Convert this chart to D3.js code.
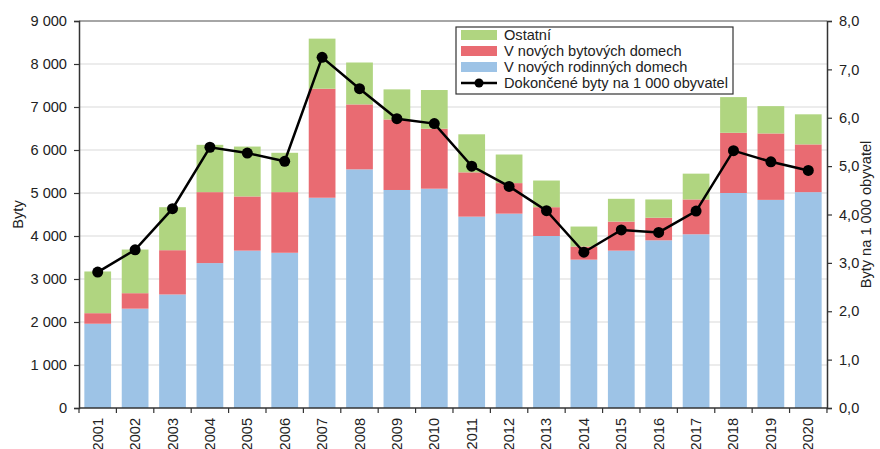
<!DOCTYPE html>
<html>
<head>
<meta charset="utf-8">
<script src="https://cdn.jsdelivr.net/npm/d3@7"></script>
<style>
  body { margin: 0; background: #fff; }
  text { font-family: "Liberation Sans", Arial, sans-serif; fill: #222; }
</style>
</head>
<body>
<div id="chart"></div>
<script>
// Data
const years = ["2001","2002","2003","2004","2005","2006","2007","2008","2009","2010",
  "2011","2012","2013","2014","2015","2016","2017","2018","2019","2020"];
const rodinne = [1960, 2310, 2640, 3370, 3660, 3610, 4890, 5550, 5070, 5100,
  4450, 4520, 4000, 3450, 3660, 3900, 4040, 5000, 4840, 5020];
const bytove = [245, 360, 1030, 1650, 1260, 1410, 2535, 1510, 1640, 1395,
  1030, 710, 670, 305, 675, 525, 810, 1400, 1545, 1110];
const ostatni = [970, 1015, 1000, 1100, 1160, 915, 1165, 975, 700, 900,
  885, 665, 620, 465, 530, 425, 600, 830, 635, 700];
const naObyvatel = [2.81, 3.27, 4.12, 5.39, 5.27, 5.10, 7.25, 6.60, 5.98, 5.88,
  5.00, 4.58, 4.08, 3.22, 3.68, 3.63, 4.07, 5.32, 5.09, 4.91];
const leftTicks = [0, 1000, 2000, 3000, 4000, 5000, 6000, 7000, 8000, 9000];
const rightTicks = [0, 1, 2, 3, 4, 5, 6, 7, 8];

const colors = ["#9dc3e6", "#e96b72", "#b0d580"];
const fontSize = 14.6;

const W = 880, H = 449;
const margin = { top: 21, right: 53, bottom: 41, left: 79 };
const width = W - margin.left - margin.right;
const height = H - margin.top - margin.bottom;

const svg = d3.select("#chart").append("svg")
  .attr("width", W).attr("height", H);
const g = svg.append("g").attr("transform", `translate(${margin.left},${margin.top})`);

const x = d3.scaleBand().domain(years).range([0, width]).paddingInner(0.285).paddingOuter(0.143);
const y = d3.scaleLinear().domain([0, 9000]).range([height, 0]);
const y2 = d3.scaleLinear().domain([0, 8]).range([height, 0]);

// gridlines
g.append("g").selectAll("line").data(leftTicks.slice(1))
  .join("line")
  .attr("x1", 0).attr("x2", width)
  .attr("y1", d => y(d)).attr("y2", d => y(d))
  .attr("stroke", d => d === 9000 ? "#888" : "#d9d9d9")
  .attr("stroke-width", d => d === 9000 ? 1.5 : 1);

// stacked bars
const table = years.map((yr, i) => ({ year: yr, s0: rodinne[i], s1: bytove[i], s2: ostatni[i] }));
const stack = d3.stack().keys(["s0", "s1", "s2"])(table);

g.append("g").selectAll("g").data(stack).join("g")
  .attr("fill", (d, i) => colors[i])
  .selectAll("rect").data(d => d).join("rect")
  .attr("x", d => x(d.data.year))
  .attr("width", x.bandwidth())
  .attr("y", d => y(d[1]))
  .attr("height", d => y(d[0]) - y(d[1]));

// line series on right axis
const line = d3.line()
  .x((d, i) => x(years[i]) + x.bandwidth() / 2)
  .y(d => y2(d));
g.append("path").datum(naObyvatel)
  .attr("d", line).attr("fill", "none")
  .attr("stroke", "#000").attr("stroke-width", 2.5);
g.append("g").selectAll("circle").data(naObyvatel).join("circle")
  .attr("cx", (d, i) => x(years[i]) + x.bandwidth() / 2)
  .attr("cy", d => y2(d))
  .attr("r", 5.5).attr("fill", "#000");

// axes
const fmtLeft = d => d3.format(",")(d).replace(",", " ");
const leftAxis = g.append("g")
  .call(d3.axisLeft(y).tickValues(leftTicks).tickFormat(fmtLeft).tickSize(5).tickPadding(7));
const rightAxis = g.append("g").attr("transform", `translate(${width},0)`)
  .call(d3.axisRight(y2).tickValues(rightTicks).tickFormat(d => d3.format(".1f")(d).replace(".", ",")).tickSize(5).tickPadding(7));
[leftAxis, rightAxis].forEach(a => {
  a.select(".domain").attr("stroke", "#333").attr("stroke-width", 1.5);
  a.selectAll(".tick line").attr("stroke", "#333").attr("stroke-width", 1.2);
  a.selectAll("text").attr("font-size", fontSize).attr("fill", "#222")
    .style("font-family", "'Liberation Sans', Arial, sans-serif");
});

// x axis: ticks between categories, rotated labels
const xAxis = g.append("g").attr("transform", `translate(0,${height})`);
xAxis.append("line").attr("x1", 0).attr("x2", width).attr("stroke", "#333").attr("stroke-width", 1.5);
const step = x.step();
xAxis.selectAll(".sep").data(d3.range(years.length + 1)).join("line")
  .attr("x1", i => x(years[0]) - x.paddingOuter() * step + i * step)
  .attr("x2", i => x(years[0]) - x.paddingOuter() * step + i * step)
  .attr("y1", 0).attr("y2", 5)
  .attr("stroke", "#333").attr("stroke-width", 1.2);
xAxis.selectAll("text").data(years).join("text")
  .attr("transform", d => `translate(${x(d) + x.bandwidth() / 2 + 5},10) rotate(-90)`)
  .attr("text-anchor", "end")
  .attr("font-size", fontSize)
  .text(d => d);

// axis titles
svg.append("text")
  .attr("transform", `translate(23,${margin.top + height / 2}) rotate(-90)`)
  .attr("text-anchor", "middle").attr("font-size", fontSize).text("Byty");
svg.append("text")
  .attr("transform", `translate(871,${margin.top + height / 2}) rotate(-90)`)
  .attr("text-anchor", "middle").attr("font-size", fontSize).text("Byty na 1 000 obyvatel");

// legend
const legend = svg.append("g").attr("transform", "translate(456,27)");
legend.append("rect").attr("width", 277).attr("height", 67)
  .attr("fill", "#fff").attr("stroke", "#333").attr("stroke-width", 1.2);
const legendItems = [
  { name: "Ostatní", color: colors[2] },
  { name: "V nových bytových domech", color: colors[1] },
  { name: "V nových rodinných domech", color: colors[0] },
  { name: "Dokončené byty na 1 000 obyvatel", color: null }
];
const li = legend.selectAll("g").data(legendItems).join("g")
  .attr("transform", (d, i) => `translate(5,${8 + i * 16})`);
li.filter(d => d.color).append("rect")
  .attr("width", 36).attr("height", 10).attr("y", -5)
  .attr("fill", d => d.color);
li.filter(d => !d.color).append("line")
  .attr("x1", 0).attr("x2", 36).attr("stroke", "#000").attr("stroke-width", 2.5);
li.filter(d => !d.color).append("circle")
  .attr("cx", 18).attr("r", 4.5).attr("fill", "#000");
li.append("text").attr("x", 43).attr("dy", "0.35em")
  .attr("font-size", fontSize).text(d => d.name);
</script>
</body>
</html>
